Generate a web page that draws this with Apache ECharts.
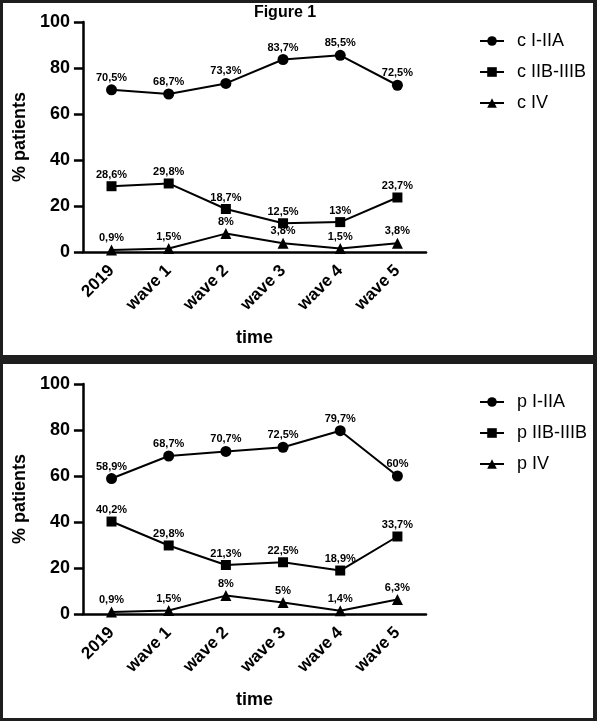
<!DOCTYPE html>
<html>
<head>
<meta charset="utf-8">
<script src="https://cdn.jsdelivr.net/npm/echarts@6/dist/echarts.min.js"></script>
<style>
  html, body {
    margin: 0;
    padding: 0;
    width: 597px;
    height: 721px;
    background: #1e1e1e;
    overflow: hidden;
  }
  .panel {
    position: absolute;
    left: 3px;
    width: 590px;
    background: #fff;
  }
  #chart-top {
    top: 3px;
    height: 352px;
  }
  #chart-bottom {
    top: 364px;
    height: 354px;
  }
</style>
</head>
<body>
<div id="chart-top" class="panel"></div>
<div id="chart-bottom" class="panel"></div>
<script>
// categories on the x axis
const categories = ['2019', 'wave 1', 'wave 2', 'wave 3', 'wave 4', 'wave 5']
const yTicks = [0, 20, 40, 60, 80, 100]

// top panel (clinical stage)
const clinicalNames = ['c I-IIA', 'c IIB-IIIB', 'c IV']
const cEarly = [70.5, 68.7, 73.3, 83.7, 85.5, 72.5]
const cMid = [28.6, 29.8, 18.7, 12.5, 13, 23.7]
const cLate = [0.9, 1.5, 8, 3.8, 1.5, 3.8]

// bottom panel (pathological stage)
const pathoNames = ['p I-IIA', 'p IIB-IIIB', 'p IV']
const pEarly = [58.9, 68.7, 70.7, 72.5, 79.7, 60]
const pMid = [40.2, 29.8, 21.3, 22.5, 18.9, 33.7]
const pLate = [0.9, 1.5, 8, 5, 1.4, 6.3]

const FONT = '"Liberation Sans", Arial, Helvetica, sans-serif'
const INK = '#000'
const symbols = ['circle', 'rect', 'triangle']
const symbolSizes = [11, 10, 11]

function fmtPct (v) {
  return String(v).replace('.', ',') + '%'
}

function buildOption (names, lists, withTitle) {
  const series = lists.map(function (data, i) {
    return {
      name: names[i],
      type: 'line',
      data: data,
      symbol: symbols[i],
      symbolSize: symbolSizes[i],
      clip: false,
      itemStyle: { color: INK },
      lineStyle: { color: INK, width: 2 },
      label: {
        show: true,
        position: 'top',
        distance: 1,
        color: INK,
        fontFamily: FONT,
        fontWeight: 'bold',
        fontSize: 11,
        formatter: function (p) { return fmtPct(p.value) }
      },
      emphasis: { disabled: true }
    }
  })
  return {
    animation: false,
    title: {
      show: withTitle,
      text: 'Figure 1',
      left: 282,
      top: 2,
      padding: 0,
      textAlign: 'center',
      textStyle: { color: INK, fontFamily: FONT, fontWeight: 'bold', fontSize: 16 }
    },
    legend: {
      orient: 'vertical',
      left: 476,
      top: 29,
      padding: 0,
      itemWidth: 24,
      itemHeight: 12,
      itemGap: 13,
      data: names,
      textStyle: { color: INK, fontFamily: FONT, fontSize: 18, padding: [0, 0, 0, 8] }
    },
    grid: {
      left: 77,
      top: withTitle ? 19 : 20,
      width: 346,
      height: 230
    },
    xAxis: {
      type: 'category',
      data: categories,
      boundaryGap: true,
      name: 'time',
      nameLocation: 'middle',
      nameGap: 77,
      nameTextStyle: { color: INK, fontFamily: FONT, fontWeight: 'bold', fontSize: 18 },
      axisLine: { lineStyle: { color: INK, width: 2.5 } },
      axisTick: { alignWithLabel: true, length: 9, lineStyle: { color: INK, width: 2.5 } },
      axisLabel: {
        rotate: 45,
        margin: 16,
        color: INK,
        fontFamily: FONT,
        fontWeight: 'bold',
        fontSize: 17
      },
      splitLine: { show: false }
    },
    yAxis: {
      type: 'value',
      min: yTicks[0],
      max: yTicks[yTicks.length - 1],
      interval: yTicks[1] - yTicks[0],
      name: '% patients',
      nameLocation: 'middle',
      nameGap: 50,
      nameRotate: 90,
      nameTextStyle: { color: INK, fontFamily: FONT, fontWeight: 'bold', fontSize: 18 },
      axisLine: { show: true, lineStyle: { color: INK, width: 2.5 } },
      axisTick: { show: true, length: 9, lineStyle: { color: INK, width: 2.5 } },
      axisLabel: {
        margin: 13,
        color: INK,
        fontFamily: FONT,
        fontWeight: 'bold',
        fontSize: 18
      },
      splitLine: { show: false }
    },
    series: series
  }
}

const topChart = echarts.init(document.getElementById('chart-top'))
topChart.setOption(buildOption(clinicalNames, [cEarly, cMid, cLate], true))

const bottomChart = echarts.init(document.getElementById('chart-bottom'))
bottomChart.setOption(buildOption(pathoNames, [pEarly, pMid, pLate], false))
</script>
</body>
</html>
